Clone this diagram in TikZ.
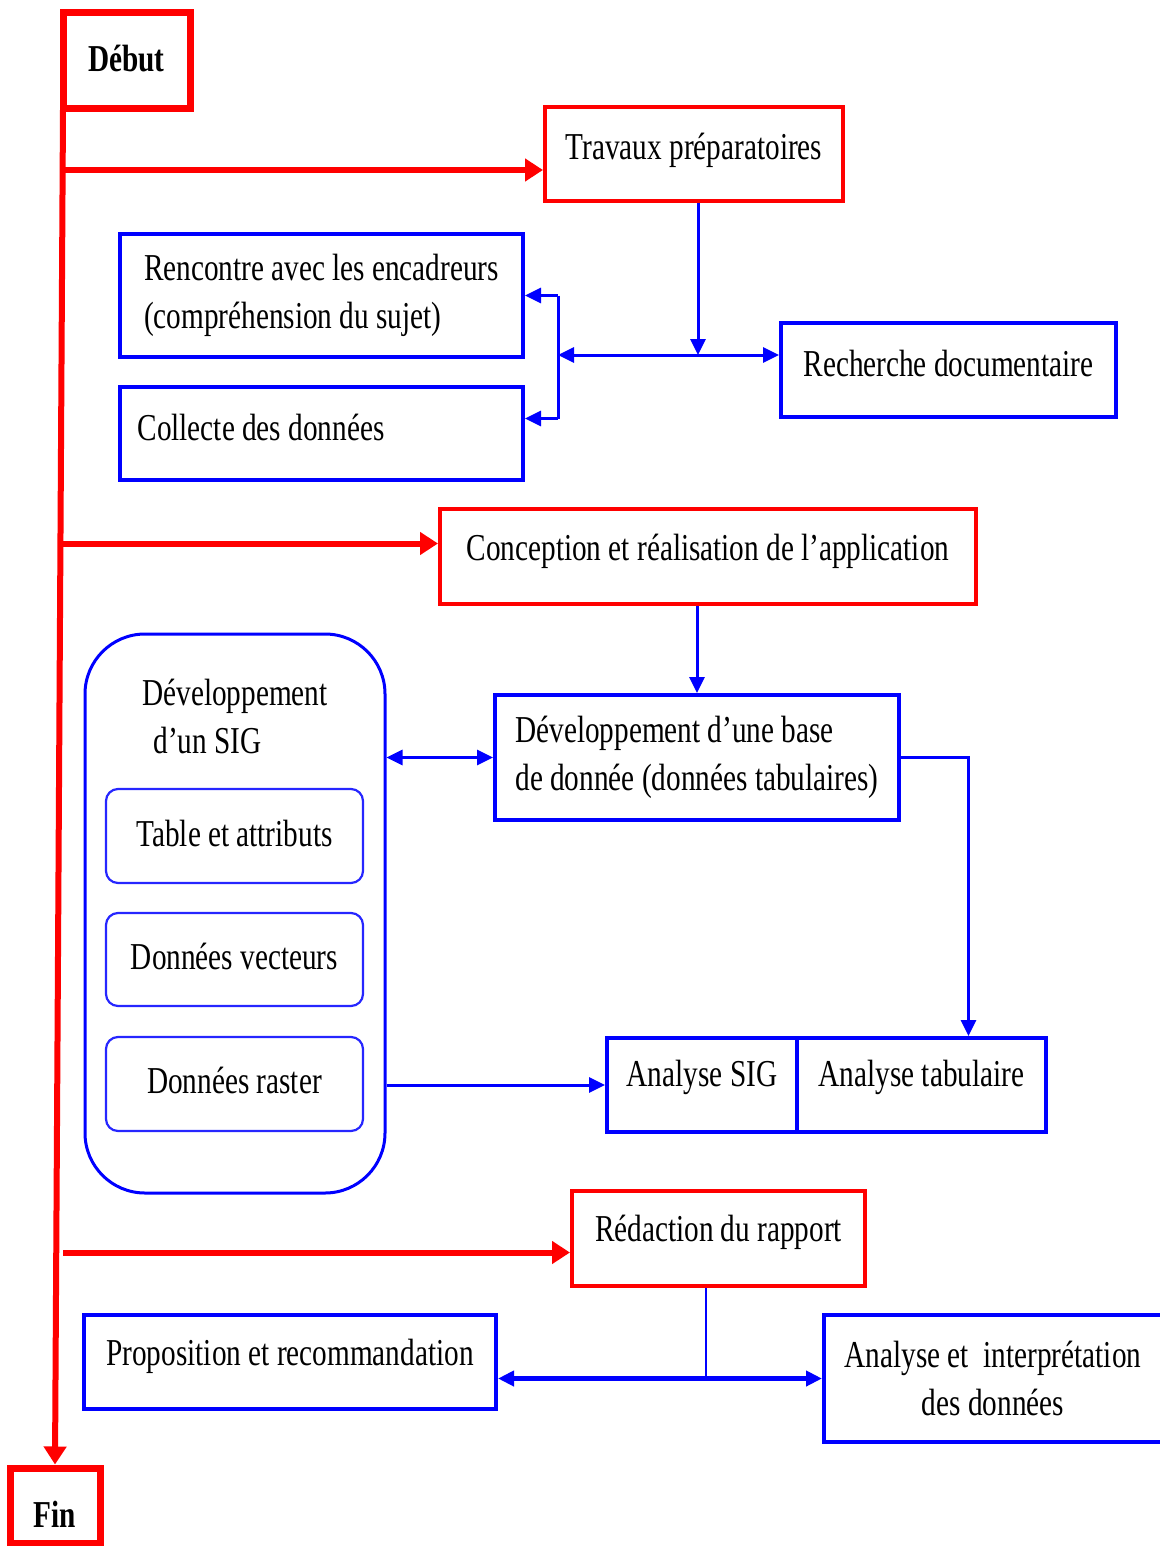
\documentclass[tikz,border=0pt]{standalone}
\usepackage{fontspec}
\setmainfont{Liberation Serif}[FakeStretch=0.77]
\usepackage{xcolor}
\usetikzlibrary{arrows.meta}
\definecolor{planred}{RGB}{255, 0, 0}
\definecolor{planblue}{RGB}{0, 0, 255}
\newcommand{\liftby}[2]{\raisebox{#1}[\height][\depth]{#2}}

\tikzset{
  redbox/.style={draw=planred, line width=4pt, rectangle, inner sep=0pt},
  bluebox/.style={draw=planblue, line width=4pt, rectangle, inner sep=0pt},
  subbox/.style={draw=planblue!85, line width=2.2pt, rectangle, rounded corners=12pt, inner sep=0pt},
  redarrow/.style={draw=planred, line width=6pt, -{Triangle[length=18pt,width=22pt]}},
  bluearrow/.style={draw=planblue, line width=3pt, -{Triangle[length=16pt,width=15pt]}},
  bluetwin/.style={draw=planblue, line width=3pt, {Triangle[length=16pt,width=15pt]}-{Triangle[length=16pt,width=15pt]}},
}

\begin{document}
\begin{tikzpicture}[x=1pt, y=-1pt, every node/.style={font=\fontsize{38pt}{48pt}\selectfont}]
    \useasboundingbox (0,0) rectangle (1159,1546);

    %% start / end
    \node[redbox, line width=7pt, minimum width=127pt, minimum height=96pt, font=\fontsize{38pt}{48pt}\selectfont\bfseries]
      (debut) at (126.5,61) {\liftby{2pt}{Début}};
    \node[redbox, line width=7pt, minimum width=90pt, minimum height=75pt, font=\fontsize{38pt}{48pt}\selectfont\bfseries]
      (fin) at (55,1505.5) {\liftby{-9pt}{Fin}};

    %% step 1
    \node[redbox, minimum width=298pt, minimum height=94pt] (trav) at (694,154) {\liftby{4pt}{Travaux préparatoires}};
    \node[bluebox, minimum width=403pt, minimum height=123pt, align=left]
      (renc) at (321.5,295.5) {Rencontre avec les encadreurs\\(compréhension du sujet)};
    \node[bluebox, minimum width=403pt, minimum height=93pt,
      label={[anchor=west, xshift=16pt, yshift=6pt]west:Collecte des données}]
      (coll) at (321.5,433.5) {};
    \node[bluebox, minimum width=335pt, minimum height=94pt] (rech) at (948.5,370) {\liftby{6pt}{Recherche documentaire}};

    %% step 2
    \node[redbox, minimum width=536pt, minimum height=95pt] (conc) at (708,556.5) {\liftby{5pt}{Conception et réalisation de l’application}};
    \node[draw=planblue, line width=3pt, rounded corners=60pt, minimum width=300pt, minimum height=559pt]
      (sig) at (235,913.5) {};
    \node[align=left] (sigtitle) at (235,716) {Développement\\\hspace*{11pt}d’un SIG};
    \node[subbox, minimum width=257pt, minimum height=94pt] (tabl) at (234.5,836) {\liftby{3pt}{Table et attributs}};
    \node[subbox, minimum width=257pt, minimum height=93pt] (vect) at (234.5,959.5) {\liftby{3pt}{Données vecteurs}};
    \node[subbox, minimum width=257pt, minimum height=94pt] (rast) at (234.5,1084) {\liftby{4pt}{Données raster}};
    \node[bluebox, minimum width=404pt, minimum height=125pt, align=left]
      (db) at (697,757.5) {Développement d’une base\\de donnée (données tabulaires)};
    \node[bluebox, minimum width=190pt, minimum height=94pt] (anasig) at (702,1085) {\liftby{8pt}{Analyse SIG}};
    \node[bluebox, minimum width=249pt, minimum height=94pt] (anatab) at (921.5,1085) {\liftby{8pt}{Analyse tabulaire}};

    %% step 3
    \node[redbox, minimum width=293pt, minimum height=95pt] (redac) at (718.5,1238.5) {\liftby{6pt}{Rédaction du rapport}};
    \node[bluebox, minimum width=412pt, minimum height=94pt] (prop) at (290,1362) {\liftby{6pt}{Proposition et recommandation}};
    \node[bluebox, minimum width=338pt, minimum height=127pt, align=center]
      (anint) at (993,1378.5) {Analyse et \ interprétation\\des données};

    %% red spine
    \coordinate (spine) at (63,110);
    \draw[redarrow] (spine) -- (fin.north);
    \draw[redarrow] ([yshift=-16pt]trav.west -| spine) -- ([yshift=-16pt]trav.west);
    \draw[redarrow] ([yshift=13pt]conc.west -| spine) -- ([yshift=13pt]conc.west);
    \draw[redarrow] ([yshift=-14pt]redac.west -| spine) -- ([yshift=-14pt]redac.west);

    %% blue links, step 1
    \coordinate (hub1) at (698,355);
    \coordinate (brk) at (558,355);
    \draw[bluearrow] (trav.south -| hub1) -- (hub1);
    \draw[bluetwin] (brk) -- (hub1 -| rech.west);
    \draw[draw=planblue, line width=3pt] (brk |- renc.east) -- ([yshift=15pt]coll.east -| brk);
    \draw[bluearrow] (brk |- renc.east) -- (renc.east);
    \draw[bluearrow] ([yshift=15pt]coll.east -| brk) -- ([yshift=15pt]coll.east);

    %% blue links, step 2
    \draw[bluearrow] (db.north |- conc.south) -- (db.north);
    \draw[bluetwin] (db.west -| sig.east) -- (db.west);
    \draw[bluearrow] (db.east) -| ([xshift=47pt]anatab.north);
    \draw[bluearrow] (anasig.west -| sig.east) -- (anasig.west);

    %% blue links, step 3
    \coordinate (hub2) at (706,1379);
    \draw[draw=planblue, line width=2pt] (redac.south -| hub2) -- (hub2);
    \draw[bluetwin, line width=5pt] (prop.east |- anint.west) -- (anint.west);
\end{tikzpicture}
\end{document}
